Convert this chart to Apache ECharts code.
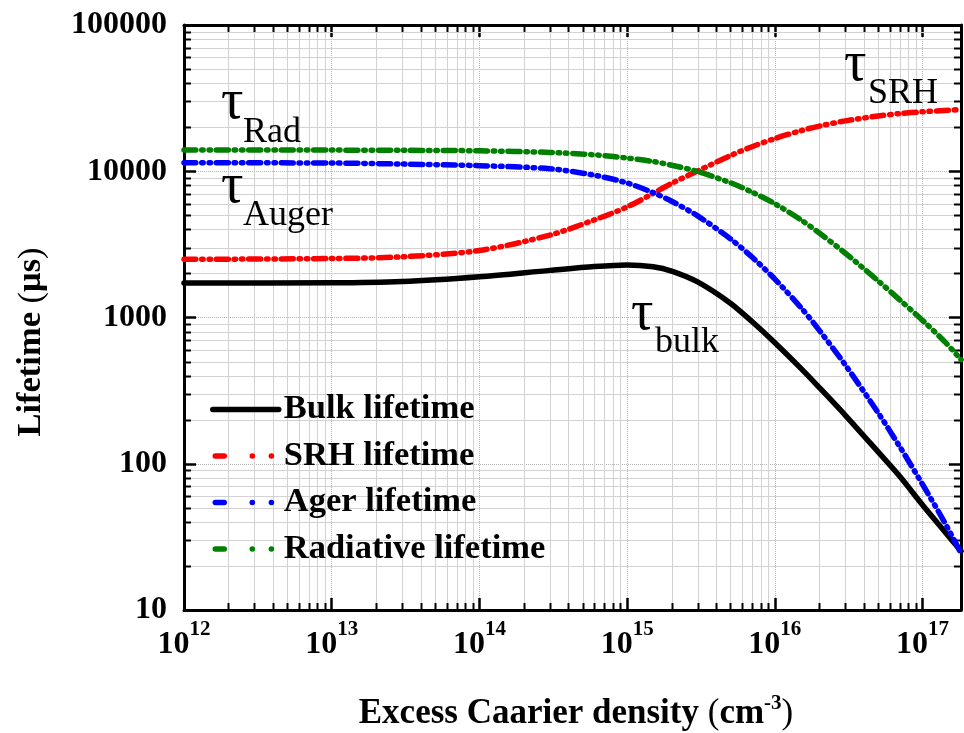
<!DOCTYPE html>
<html>
<head>
<meta charset="utf-8">
<script src="https://cdn.jsdelivr.net/npm/echarts@6/dist/echarts.min.js"></script>
<style>
  html, body { margin: 0; padding: 0; background: #fff; }
  #chart { width: 964px; height: 733px; }
</style>
</head>
<body>
<div id="chart"></div>
<script>
// Excess carrier density sampling points (cm^-3)
const density = [1e12, 1e13, 3e13, 1e14, 3e14, 6e14, 1e15, 1.5e15, 2e15, 3e15, 5e15, 7e15,
                 1e16, 1.5e16, 2e16, 3e16, 5e16, 7e16, 1e17, 1.4e17, 1.82e17];

// Lifetimes (µs) at each density
const bulkLifetime = [1720, 1725, 1760, 1900, 2100, 2230, 2286, 2222, 2077, 1751, 1253, 938,
                      672, 449, 332, 214.5, 120.5, 82.1, 52.2, 34.7, 25.3];
const srhLifetime = [2500, 2530, 2600, 2870, 3660, 4650, 5700, 7060, 8260, 10040, 12800, 14720,
                     16740, 18940, 20360, 22100, 23870, 24790, 25540, 26030, 26400];
const augerLifetime = [11430, 11380, 11200, 10920, 10400, 9400, 8310, 7140, 6240, 4950, 3450, 2590,
                       1830, 1170, 817, 473, 223, 131, 72.2, 40.2, 24.5];
const radLifetime = [13960, 13950, 13900, 13800, 13450, 12950, 12300, 11650, 11000, 9950, 8350, 7200,
                     6000, 4650, 3780, 2750, 1780, 1320, 955, 690, 515];

const seriesNames = ['Bulk lifetime', 'SRH lifetime', 'Ager lifetime', 'Radiative lifetime'];
const seriesColors = ['#000000', '#ff0000', '#0000ff', '#008000'];

// Axis ranges and labelled ticks
const xRange = [1e12, 1.82e17];
const yRange = [10, 100000];
const xTickExponents = [12, 13, 14, 15, 16, 17];
const yTickLabels = ['10', '100', '1000', '10000', '100000'];

const SERIF = '"Liberation Serif", "Times New Roman", serif';

// Minor (2..9) positions within every decade, for minor ticks and grid lines
function minorValues(lo, hi) {
  const out = [];
  for (let d = Math.floor(Math.log10(lo)); d <= Math.ceil(Math.log10(hi)); d++) {
    for (let m = 2; m <= 9; m++) {
      const v = m * Math.pow(10, d);
      if (v > lo && v < hi) out.push(v);
    }
  }
  return out;
}
const xMinor = minorValues(xRange[0], xRange[1]);
const yMinor = minorValues(yRange[0], yRange[1]);

const chart = echarts.init(document.getElementById('chart'), null, { renderer: 'canvas' });

const axisLineStyle = { color: '#000', width: 3 };
const majorTick = { show: true, inside: true, length: 12, lineStyle: { color: '#000', width: 2.5 } };
const majorGrid = { show: true, lineStyle: { color: '#b5b5b5', type: 'dotted', width: 1 } };

function xLabel(v) {
  const e = Math.log10(v);
  const r = Math.round(e);
  if (Math.abs(e - r) > 1e-6 || xTickExponents.indexOf(r) < 0) return '';
  return '{b|10}{s|' + r + '}';
}
function yLabel(v) {
  const s = String(Math.round(v));
  return yTickLabels.indexOf(s) >= 0 ? s : '';
}

function minorXItem(params, api) {
  const cs = params.coordSys;
  const x = Math.round(api.coord([api.value(0), yRange[0]])[0]) + 0.5;
  const top = cs.y, bottom = cs.y + cs.height;
  return {
    type: 'group',
    children: [
      { type: 'line', shape: { x1: x, y1: top, x2: x, y2: bottom }, style: { stroke: '#d2d2d2', lineWidth: 1 } },
      { type: 'line', shape: { x1: x, y1: bottom, x2: x, y2: bottom - 7 }, style: { stroke: '#000', lineWidth: 2 } },
      { type: 'line', shape: { x1: x, y1: top, x2: x, y2: top + 7 }, style: { stroke: '#000', lineWidth: 2 } }
    ]
  };
}
function minorYItem(params, api) {
  const cs = params.coordSys;
  const y = Math.round(api.coord([xRange[0], api.value(1)])[1]) + 0.5;
  const left = cs.x, right = cs.x + cs.width;
  return {
    type: 'group',
    children: [
      { type: 'line', shape: { x1: left, y1: y, x2: right, y2: y }, style: { stroke: '#d2d2d2', lineWidth: 1 } },
      { type: 'line', shape: { x1: left, y1: y, x2: left + 7, y2: y }, style: { stroke: '#000', lineWidth: 2 } },
      { type: 'line', shape: { x1: right, y1: y, x2: right - 7, y2: y }, style: { stroke: '#000', lineWidth: 2 } }
    ]
  };
}

const pairs = vals => density.map((d, i) => [d, vals[i]]);
const curveDash = [12, 5.8, 1.5, 5.8, 1.5, 5.8];

function curve(name, color, vals, solid) {
  return {
    name: name,
    type: 'line',
    data: pairs(vals),
    symbol: 'none',
    smooth: 0.3,
    z: 5,
    lineStyle: { color: color, width: 5.5, type: solid ? 'solid' : curveDash, cap: 'round', join: 'round' },
    emphasis: { disabled: true }
  };
}

const legendDash = [9, 28, 0.1, 19, 0.1, 60];
function legendEntry(i) {
  const solid = i === 0;
  return {
    name: seriesNames[i],
    itemStyle: { opacity: 0 },
    lineStyle: {
      color: seriesColors[i], width: 5.5, cap: 'round',
      type: solid ? 'solid' : legendDash, dashOffset: solid ? 0 : -2.5
    }
  };
}

// Curve annotations (tau and its subscript), placed as title blocks
function note(x, midY, text, size) {
  return {
    text: text, left: x, top: midY - size / 2, padding: 0,
    textStyle: { fontFamily: SERIF, fontSize: size, fontWeight: 'normal', color: '#000', lineHeight: size }
  };
}

const option = {
  backgroundColor: '#fff',
  animation: false,
  title: [
    note(221, 103, 'τ', 56),
    note(243, 133, 'Rad', 36),
    note(221, 187, 'τ', 56),
    note(243, 216, 'Auger', 36),
    note(844, 65, 'τ', 56),
    note(868, 94, 'SRH', 36),
    note(631, 314, 'τ', 56),
    note(655, 343, 'bulk', 36)
  ],
  grid: { left: 184, top: 25, right: 2, bottom: 123 },
  xAxis: [
    {
      type: 'log', logBase: 10, min: xRange[0], max: xRange[1], position: 'bottom',
      axisLine: { show: true, onZero: false, lineStyle: axisLineStyle },
      axisTick: majorTick,
      splitLine: majorGrid,
      axisLabel: {
        margin: 9,
        formatter: xLabel,
        rich: {
          b: { fontFamily: SERIF, fontWeight: 'bold', fontSize: 32, lineHeight: 42, color: '#000', verticalAlign: 'bottom' },
          s: { fontFamily: SERIF, fontWeight: 'bold', fontSize: 21, lineHeight: 22, color: '#000', verticalAlign: 'top' }
        }
      }
    },
    {
      type: 'log', logBase: 10, min: xRange[0], max: xRange[1], position: 'top',
      axisLine: { show: true, onZero: false, lineStyle: axisLineStyle },
      axisTick: majorTick,
      axisLabel: { show: false },
      splitLine: { show: false }
    }
  ],
  yAxis: [
    {
      type: 'log', logBase: 10, min: yRange[0], max: yRange[1], position: 'left',
      axisLine: { show: true, onZero: false, lineStyle: axisLineStyle },
      axisTick: majorTick,
      splitLine: majorGrid,
      axisLabel: {
        margin: 17, formatter: yLabel,
        fontFamily: SERIF, fontWeight: 'bold', fontSize: 32, color: '#000'
      }
    },
    {
      type: 'log', logBase: 10, min: yRange[0], max: yRange[1], position: 'right',
      axisLine: { show: true, onZero: false, lineStyle: axisLineStyle },
      axisTick: majorTick,
      axisLabel: { show: false },
      splitLine: { show: false }
    }
  ],
  legend: {
    orient: 'vertical',
    left: 210,
    top: 392,
    padding: 0,
    itemWidth: 66,
    itemHeight: 20,
    itemGap: 11.5,
    selectedMode: false,
    textStyle: { fontFamily: SERIF, fontWeight: 'bold', fontSize: 34.5, lineHeight: 34, color: '#000' },
    data: [0, 1, 2, 3].map(legendEntry)
  },
  series: [
    {
      type: 'custom', name: 'minorX', coordinateSystem: 'cartesian2d', xAxisIndex: 0, yAxisIndex: 0,
      data: xMinor.map(v => [v, yRange[0]]), renderItem: minorXItem, z: 1, silent: true, clip: false
    },
    {
      type: 'custom', name: 'minorY', coordinateSystem: 'cartesian2d', xAxisIndex: 0, yAxisIndex: 0,
      data: yMinor.map(v => [xRange[0], v]), renderItem: minorYItem, z: 1, silent: true, clip: false
    },
    curve(seriesNames[0], seriesColors[0], bulkLifetime, true),
    curve(seriesNames[1], seriesColors[1], srhLifetime, false),
    curve(seriesNames[2], seriesColors[2], augerLifetime, false),
    curve(seriesNames[3], seriesColors[3], radLifetime, false)
  ],
  graphic: [
    // Axis titles
    {
      type: 'text', x: 30, y: 342, rotation: Math.PI / 2, silent: true,
      style: {
        text: '{b|Lifetime }{r|(}{b|μs}{r|)}', align: 'center', verticalAlign: 'middle',
        rich: {
          b: { fontFamily: SERIF, fontWeight: 'bold', fontSize: 34.5, lineHeight: 38, fill: '#000', verticalAlign: 'bottom' },
          r: { fontFamily: SERIF, fontSize: 34.5, lineHeight: 38, fill: '#000', verticalAlign: 'bottom' }
        }
      }
    },
    {
      type: 'text', x: 576, y: 712, silent: true,
      style: {
        text: '{b|Excess Caarier density }{r|(}{b|cm}{s|-3}{r|)}', align: 'center', verticalAlign: 'middle',
        rich: {
          b: { fontFamily: SERIF, fontWeight: 'bold', fontSize: 35, lineHeight: 38, fill: '#000', verticalAlign: 'bottom' },
          r: { fontFamily: SERIF, fontSize: 35, lineHeight: 38, fill: '#000', verticalAlign: 'bottom' },
          s: { fontFamily: SERIF, fontWeight: 'bold', fontSize: 21, lineHeight: 21, fill: '#000', verticalAlign: 'top' }
        }
      }
    }
  ]
};

chart.setOption(option);
</script>
</body>
</html>
